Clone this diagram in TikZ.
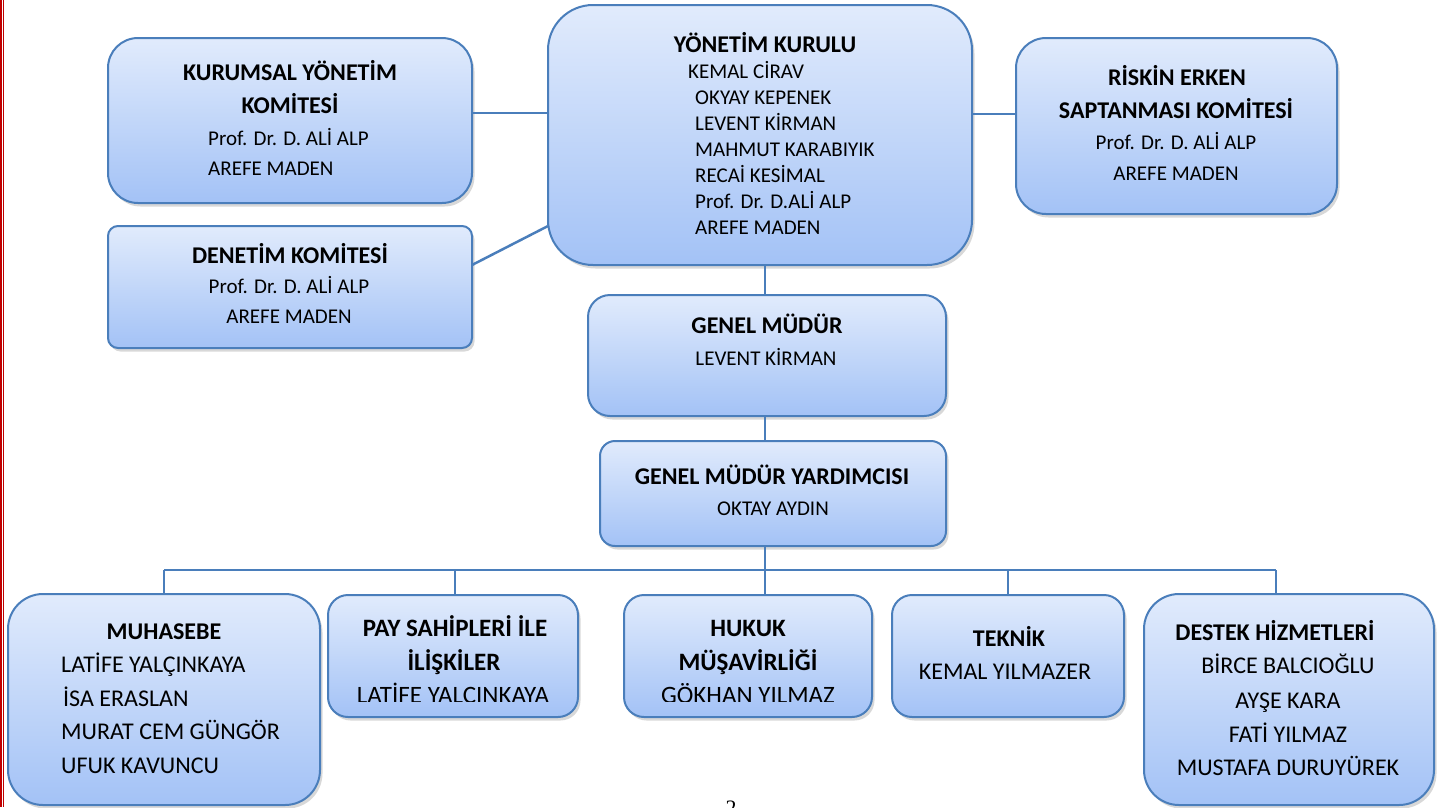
\documentclass[tikz,border=0pt]{standalone}
\usepackage{fontspec}
\setmainfont{Carlito}
\newfontfamily\pnfont{Liberation Serif}
\usetikzlibrary{shadows}
\definecolor{bordc}{RGB}{74,126,187}
\definecolor{topc}{RGB}{225,235,252}
\definecolor{botc}{RGB}{163,194,246}
\definecolor{redc}{RGB}{192,0,0}
\tikzset{
 orgbox/.style={draw=bordc, line width=2pt, rounded corners=#1, top color=topc, bottom color=botc,
   drop shadow={shadow xshift=2.5pt, shadow yshift=-3.5pt, opacity=0.3},
   anchor=north west, inner sep=0pt, outer sep=0pt},
 conn/.style={draw=bordc, line width=2.5pt},
 tx/.style={inner sep=0pt, anchor=base, font=\fontsize{21}{26}\selectfont},
 txl/.style={tx, anchor=base west},
 tb/.style={inner sep=0pt, anchor=base, font=\fontsize{24}{28}\selectfont\bfseries},
 tbig/.style={inner sep=0pt, anchor=base, font=\fontsize{24}{28}\selectfont},
 tbigl/.style={tbig, anchor=base west},
 thuge/.style={inner sep=0pt, anchor=base, font=\fontsize{25}{30}\selectfont},
 thugeb/.style={inner sep=0pt, anchor=base, font=\fontsize{25}{30}\selectfont\bfseries},
}
\begin{document}
\begin{tikzpicture}[x=1pt,y=-1pt]
\useasboundingbox (0,0) rectangle (1448,807);
\fill[white] (0,0) rectangle (1448,807);
% red page border
\fill[redc] (0,0) rectangle (2.3,807);
\fill[redc] (3.2,0) rectangle (4.3,807);

% boxes
\node[orgbox=30, minimum width=364, minimum height=165] (kur) at (108,38) {};
\node[orgbox=10, minimum width=364, minimum height=122] (den) at (108,226) {};
\node[orgbox=45, minimum width=424, minimum height=260] (yk) at (548,5) {};
\node[orgbox=30, minimum width=321, minimum height=176] (risk) at (1016,38) {};
\node[orgbox=22, minimum width=358, minimum height=121] (gm) at (588,295) {};
\node[orgbox=15, minimum width=346, minimum height=105] (gmy) at (600,441) {};
\node[orgbox=35, minimum width=312, minimum height=211] (muh) at (8,594) {};
\node[orgbox=20, minimum width=250, minimum height=122] (pay) at (328,595) {};
\node[orgbox=20, minimum width=248, minimum height=122] (huk) at (624,595) {};
\node[orgbox=20, minimum width=232, minimum height=122] (tek) at (892,595) {};
\node[orgbox=35, minimum width=290, minimum height=211] (des) at (1144,594) {};

% connectors
\coordinate (spine) at (765,0);
\coordinate (bus) at (0,570);
\draw[conn] ([yshift=7.5pt]kur.east) -- ([yshift=7.5pt]kur.east -| yk.west);
\draw[conn] ([yshift=22pt]den.east) -- ([yshift=-91pt]yk.west);
\draw[conn] ([yshift=12pt]risk.west -| yk.east) -- ([yshift=12pt]risk.west);
\draw[conn] (spine |- yk.south) -- (spine |- gm.north);
\draw[conn] (spine |- gm.south) -- (spine |- gmy.north);
\draw[conn] (spine |- gmy.south) -- (spine |- bus);
\draw[conn] (muh.north |- bus) -- ([xshift=-13pt]des.north |- bus);
\draw[conn] (muh.north |- bus) -- (muh.north);
\draw[conn] ([xshift=2pt]pay.north |- bus) -- ([xshift=2pt]pay.north);
\draw[conn] (spine |- bus) -- (spine |- huk.north);
\draw[conn] (tek.north |- bus) -- (tek.north);
\draw[conn] ([xshift=-13pt]des.north |- bus) -- ([xshift=-13pt]des.north);

% texts: KURUMSAL
\node[tb] (kur1) at (290,80) {KURUMSAL YÖNETİM};
\node[tb] (kur2) at (290,113) {KOMİTESİ};
\node[txl] (kur3) at (208,145) {Prof. Dr. D. ALİ ALP};
\node[txl] (kur4) at (208,175) {AREFE MADEN};
% DENETIM
\node[tb] (den1) at (290,263) {DENETİM KOMİTESİ};
\node[tx] (den2) at (289,293) {Prof. Dr. D. ALİ ALP};
\node[tx] (den3) at (289,323) {AREFE MADEN};
% YK
\node[tb] (yk1) at (765,52) {YÖNETİM KURULU};
\node[txl] (yk2) at (688,78) {KEMAL CİRAV};
\node[txl] (yk3) at (695,104) {OKYAY KEPENEK};
\node[txl] (yk4) at (695,130) {LEVENT KİRMAN};
\node[txl] (yk5) at (695,156) {MAHMUT KARABIYIK};
\node[txl] (yk6) at (695,182) {RECAİ KESİMAL};
\node[txl] (yk7) at (695,208) {Prof. Dr. D.ALİ ALP};
\node[txl] (yk8) at (695,234) {AREFE MADEN};
% RISK
\node[tb] (rk1) at (1177,85) {RİSKİN ERKEN};
\node[tb] (rk2) at (1176,118) {SAPTANMASI KOMİTESİ};
\node[tx] (rk3) at (1176,149) {Prof. Dr. D. ALİ ALP};
\node[tx] (rk4) at (1176,180) {AREFE MADEN};
% GM
\node[tb] (gm1) at (767,333) {GENEL MÜDÜR};
\node[tx] (gm2) at (766,365) {LEVENT KİRMAN};
% GMY
\node[tb] (gmy1) at (772,484) {GENEL MÜDÜR YARDIMCISI};
\node[tx] (gmy2) at (773,515) {OKTAY AYDIN};
% MUHASEBE
\node[tb] (mu1) at (164,639) {MUHASEBE};
\node[tbigl] (mu2) at (61,672) {LATİFE YALÇINKAYA};
\node[tbigl] (mu3) at (63,706) {İSA ERASLAN};
\node[tbigl] (mu4) at (61,739) {MURAT CEM GÜNGÖR};
\node[tbigl] (mu5) at (61,773) {UFUK KAVUNCU};
% PAY
\node[thugeb] (pa1) at (455,636) {PAY SAHİPLERİ İLE};
\node[thugeb] (pa2) at (454,670) {İLİŞKİLER};
\begin{scope}
\clip (330,600) rectangle (870,701.5);
\node[thuge] (pa3) at (453,703) {LATİFE YALCINKAYA};
\node[thuge] (hu3) at (748,703) {GÖKHAN YILMAZ};
\end{scope}
% HUKUK
\node[thugeb] (hu1) at (748,636) {HUKUK};
\node[thugeb] (hu2) at (748,670) {MÜŞAVİRLİĞİ};
% TEKNIK
\node[tb] (te1) at (1009,646) {TEKNİK};
\node[tbig] (te2) at (1005,679) {KEMAL YILMAZER};
% DESTEK
\node[tb] (de1) at (1275,640) {DESTEK HİZMETLERİ};
\node[tbig] (de2) at (1288,673) {BİRCE BALCIOĞLU};
\node[tbig] (de3) at (1288,708) {AYŞE KARA};
\node[tbig] (de4) at (1288,742) {FATİ YILMAZ};
\node[tbig] (de5) at (1288,775) {MUSTAFA DURUYÜREK};
% page number (cut off at the page edge)
\begin{scope}
\clip (0,0) rectangle (1448,807);
\node[inner sep=0pt, anchor=base, font=\pnfont\fontsize{22}{26}\selectfont] (pg) at (731,815) {2};
\end{scope}
\end{tikzpicture}
\end{document}
